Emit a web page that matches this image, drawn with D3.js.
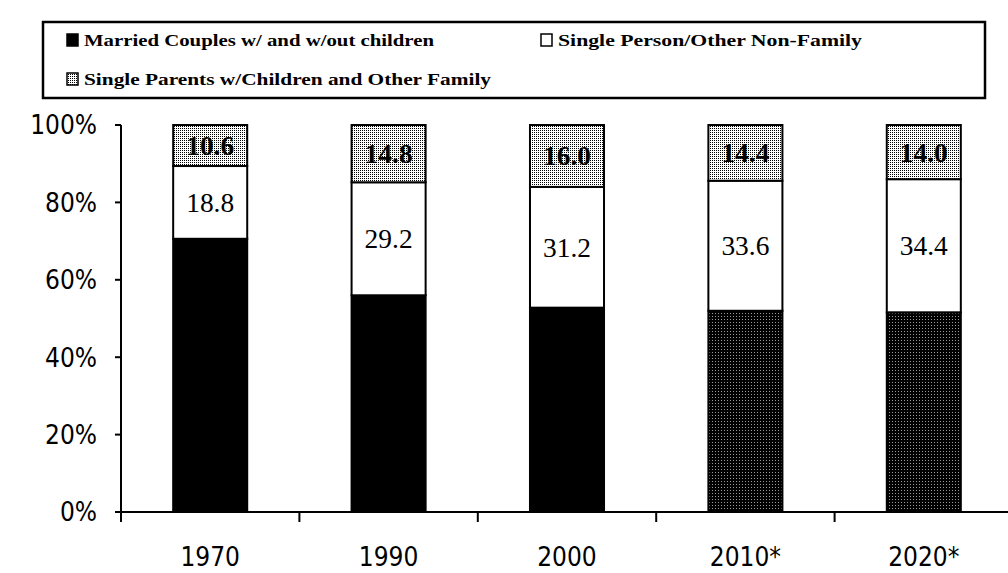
<!DOCTYPE html>
<html>
<head>
<meta charset="utf-8">
<style>
body { margin: 0; background: #fff; }
#chart { display: block; }
.ytick text, .xlab { font-family: "DejaVu Sans Condensed", "Liberation Sans Narrow", sans-serif; font-size: 26px; fill: #000; }
.seglabel { font-family: "Liberation Serif", serif; font-size: 27px; fill: #000; text-anchor: middle; }
.legend text { font-family: "Liberation Serif", serif; font-weight: bold; font-size: 17px; fill: #000; }
</style>
</head>
<body>
<svg id="chart" width="1008" height="573"></svg>
<script src="https://cdn.jsdelivr.net/npm/d3@7"></script>
<script>

// data (percent of households)
var years = ["1970", "1990", "2000", "2010*", "2020*"];
var married = [70.6, 56.0, 52.8, 52.0, 51.6];
var single = [18.8, 29.2, 31.2, 33.6, 34.4];
var parents = [10.6, 14.8, 16.0, 14.4, 14.0];
var yTicks = [0, 20, 40, 60, 80, 100];
var seriesNames = ["Married Couples w/ and w/out children", "Single Person/Other Non-Family", "Single Parents w/Children and Other Family"];

var svg = d3.select("#chart");

// patterns for the printed-look fills
var defs = svg.append("defs");
var chk = defs.append("pattern").attr("id", "checker")
  .attr("width", 2).attr("height", 2).attr("patternUnits", "userSpaceOnUse");
chk.append("rect").attr("width", 2).attr("height", 2).attr("fill", "#fff");
chk.append("rect").attr("width", 1).attr("height", 1).attr("fill", "#000");

var dots = defs.append("pattern").attr("id", "darkdots")
  .attr("width", 3).attr("height", 3).attr("patternUnits", "userSpaceOnUse");
dots.append("rect").attr("width", 3).attr("height", 3).attr("fill", "#000");
dots.append("rect").attr("x", 1).attr("y", 1).attr("width", 1).attr("height", 1).attr("fill", "#999");

var table = years.map(function(y, i) {
  return { year: y, married: married[i], single: single[i], parents: parents[i] };
});
var keys = ["married", "single", "parents"];
var stack = d3.stack().keys(keys)(table);

var x = d3.scaleBand().domain(years).range([121, 1013]).paddingInner(0.585).paddingOuter(0.2925);
var y = d3.scaleLinear().domain([0, 100]).range([512, 125]);

function fillFor(key, i) {
  if (key == "parents") return "url(#checker)";
  if (key == "single") return "#fff";
  return i >= 3 ? "url(#darkdots)" : "#000";
}

// bars
var layers = svg.selectAll(".layer").data(stack).enter().append("g").attr("class", "layer");
layers.selectAll("rect")
  .data(function(d) { return d.map(function(p, i) { return { key: d.key, i: i, p: p }; }); })
  .enter().append("rect")
  .attr("x", function(d) { return x(years[d.i]); })
  .attr("y", function(d) { return y(d.p[1]); })
  .attr("width", x.bandwidth())
  .attr("height", function(d) { return y(d.p[0]) - y(d.p[1]); })
  .attr("fill", function(d) { return fillFor(d.key, d.i); })
  .attr("stroke", "#000")
  .attr("stroke-width", 2);

// value labels on white and gray segments
layers.filter(function(d) { return d.key != "married"; })
  .selectAll("text")
  .data(function(d) { return d.map(function(p, i) { return { key: d.key, i: i, p: p }; }); })
  .enter().append("text")
  .attr("class", "seglabel")
  .attr("x", function(d) { return x(years[d.i]) + x.bandwidth() / 2; })
  .attr("y", function(d) { return (y(d.p[0]) + y(d.p[1])) / 2; })
  .attr("dy", "0.35em")
  .attr("textLength", 48).attr("lengthAdjust", "spacingAndGlyphs")
  .style("font-weight", function(d) { return d.key == "parents" ? "bold" : "normal"; })
  .text(function(d) { return (d.p[1] - d.p[0]).toFixed(1); });

// y axis
var yax = svg.append("g");
yax.append("line").attr("x1", 121).attr("x2", 121).attr("y1", y(100)).attr("y2", y(0))
  .attr("stroke", "#000").attr("stroke-width", 2);
var yt = yax.selectAll(".ytick").data(yTicks).enter().append("g").attr("class", "ytick");
yt.append("line").attr("x1", 115).attr("x2", 121)
  .attr("y1", function(d) { return y(d); }).attr("y2", function(d) { return y(d); })
  .attr("stroke", "#000").attr("stroke-width", 2);
yt.append("text").attr("x", 97).attr("y", function(d) { return y(d); })
  .attr("dy", "0.36em").attr("text-anchor", "end")
  .text(function(d) { return d + "%"; });

// x axis
svg.append("line").attr("x1", 121).attr("x2", 1008).attr("y1", y(0)).attr("y2", y(0))
  .attr("stroke", "#000").attr("stroke-width", 2);
var step = x.step();
svg.selectAll(".xtick").data(d3.range(5)).enter().append("line")
  .attr("x1", function(i) { return 121 + i * step; })
  .attr("x2", function(i) { return 121 + i * step; })
  .attr("y1", y(0)).attr("y2", y(0) + 10)
  .attr("stroke", "#000").attr("stroke-width", 2);
svg.selectAll(".xlab").data(years).enter().append("text")
  .attr("class", "xlab")
  .attr("x", function(d) { return x(d) + x.bandwidth() / 2; })
  .attr("y", 566)
  .attr("text-anchor", "middle")
  .text(function(d) { return d; });

// legend
var lg = svg.append("g").attr("class", "legend");
lg.append("rect").attr("x", 43).attr("y", 22).attr("width", 942).attr("height", 76)
  .attr("fill", "#fff").attr("stroke", "#000").attr("stroke-width", 2.5);
var legendPos = [[67, 46, 350], [541, 46, 304], [67, 85, 407]];
var legendFill = ["#000", "#fff", "url(#checker)"];
seriesNames.forEach(function(name, i) {
  var p = legendPos[i];
  lg.append("rect").attr("x", p[0]).attr("y", p[1] - 12).attr("width", 11).attr("height", 12)
    .attr("fill", legendFill[i]).attr("stroke", "#000").attr("stroke-width", 1.5);
  lg.append("text").attr("x", p[0] + 17).attr("y", p[1])
    .attr("textLength", p[2]).attr("lengthAdjust", "spacingAndGlyphs")
    .text(name);
});

</script>
</body>
</html>
